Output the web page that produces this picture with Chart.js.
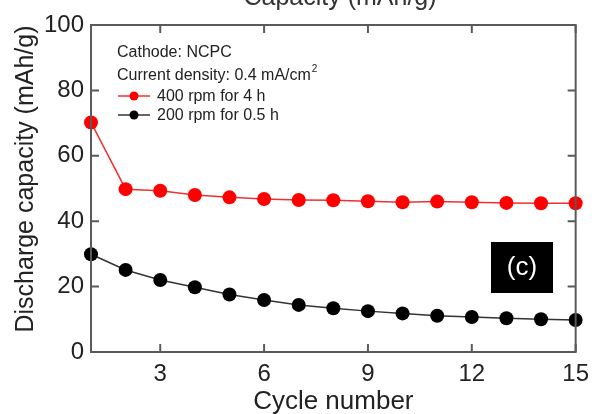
<!DOCTYPE html>
<html>
<head>
<meta charset="utf-8">
<script src="https://cdn.jsdelivr.net/npm/chart.js@4.4.1/dist/chart.umd.min.js"></script>
<style>
  html, body { margin: 0; padding: 0; background: #fff; }
</style>
</head>
<body>
<canvas id="capChart" width="597" height="414"></canvas>
<script>
// cycle number vs discharge capacity (mAh/g)
const cycles = [1, 2, 3, 4, 5, 6, 7, 8, 9, 10, 11, 12, 13, 14, 15];
const rpm400for4h = [70.2, 49.8, 49.3, 48.0, 47.3, 46.8, 46.5, 46.4, 46.1, 45.8, 46.0, 45.8, 45.6, 45.5, 45.5];
const rpm200for05h = [29.9, 25.1, 22.0, 19.8, 17.6, 15.9, 14.4, 13.4, 12.5, 11.8, 11.1, 10.7, 10.3, 10.0, 9.8];
const seriesLabels = ['400 rpm for 4 h', '200 rpm for 0.5 h'];
const xTicks = [3, 6, 9, 12, 15];
const yTicks = [0, 20, 40, 60, 80, 100];

const FONT = '"Liberation Sans", Arial, sans-serif';
const AXIS = '#5a5a5a';

// inward ticks on all four sides, frame, notes and legend
const decor = {
  id: 'decor',
  afterDatasetsDraw(chart) {
    const { ctx, chartArea: a, scales: { x, y } } = chart;
    ctx.save();
    ctx.strokeStyle = AXIS;
    ctx.lineWidth = 2;
    ctx.strokeRect(a.left, a.top, a.right - a.left, a.bottom - a.top);
    ctx.beginPath();
    xTicks.forEach(v => {
      const px = x.getPixelForValue(v);
      ctx.moveTo(px, a.bottom); ctx.lineTo(px, a.bottom - 8);
      ctx.moveTo(px, a.top); ctx.lineTo(px, a.top + 8);
    });
    yTicks.forEach(v => {
      const py = y.getPixelForValue(v);
      ctx.moveTo(a.left, py); ctx.lineTo(a.left + 8, py);
      ctx.moveTo(a.right, py); ctx.lineTo(a.right - 8, py);
    });
    ctx.stroke();

    // cut-off heading from the panel above
    ctx.fillStyle = '#333';
    ctx.font = '25px ' + FONT;
    ctx.textAlign = 'center';
    ctx.textBaseline = 'alphabetic';
    ctx.fillText('Capacity (mAh/g)', 340, 5);

    // y axis title
    ctx.save();
    ctx.translate(26, 179);
    ctx.rotate(-Math.PI / 2);
    ctx.fillStyle = '#222';
    ctx.textBaseline = 'middle';
    ctx.fillText('Discharge capacity (mAh/g)', 0, 0);
    ctx.restore();

    // notes
    ctx.textAlign = 'left';
    ctx.textBaseline = 'alphabetic';
    ctx.fillStyle = '#222';
    ctx.font = '16px ' + FONT;
    ctx.fillText('Cathode: NCPC', 117, 57);
    ctx.fillText('Current density: 0.4 mA/cm', 117, 80);
    const w = ctx.measureText('Current density: 0.4 mA/cm').width;
    ctx.font = '10px ' + FONT;
    ctx.fillText('2', 117 + w + 1, 72);

    // legend
    ctx.font = '16px ' + FONT;
    ctx.textBaseline = 'middle';
    chart.data.datasets.forEach((ds, i) => {
      const ly = 96 + i * 19;
      ctx.strokeStyle = ds.borderColor;
      ctx.lineWidth = 1.5;
      ctx.beginPath();
      ctx.moveTo(118, ly); ctx.lineTo(150, ly);
      ctx.stroke();
      ctx.fillStyle = ds.backgroundColor;
      ctx.beginPath();
      ctx.arc(134, ly, 4.5, 0, Math.PI * 2);
      ctx.fill();
      ctx.fillStyle = '#222';
      ctx.fillText(ds.label, 157, ly + 1);
    });

    // panel tag
    ctx.fillStyle = '#000';
    ctx.fillRect(491, 242, 62, 51);
    ctx.fillStyle = '#fff';
    ctx.font = '26px ' + FONT;
    ctx.textAlign = 'center';
    ctx.fillText('(c)', 522, 268);
    ctx.restore();
  }
};

new Chart(document.getElementById('capChart'), {
  type: 'line',
  data: {
    labels: cycles,
    datasets: [{
      label: seriesLabels[0],
      data: cycles.map((c, i) => ({ x: c, y: rpm400for4h[i] })),
      borderColor: '#f03030',
      backgroundColor: '#ff0000',
      borderWidth: 1.5,
      pointRadius: 7,
      pointBorderWidth: 0,
      clip: false
    }, {
      label: seriesLabels[1],
      data: cycles.map((c, i) => ({ x: c, y: rpm200for05h[i] })),
      borderColor: '#333333',
      backgroundColor: '#000000',
      borderWidth: 1.5,
      pointRadius: 7,
      pointBorderWidth: 0,
      clip: false
    }]
  },
  options: {
    responsive: false,
    animation: false,
    layout: { padding: { top: 25, right: 18, left: 0, bottom: 0 } },
    plugins: { legend: { display: false }, tooltip: { enabled: false } },
    scales: {
      x: {
        type: 'linear',
        min: 1,
        max: 15,
        afterBuildTicks: s => { s.ticks = xTicks.map(v => ({ value: v })); },
        afterFit: s => { s.height = 62; },
        grid: { display: false, drawTicks: false },
        border: { display: false },
        ticks: { color: '#222', padding: 8, font: { family: FONT, size: 24 } },
        title: {
          display: true,
          text: 'Cycle number',
          color: '#222',
          padding: { top: 0, bottom: -1 },
          font: { family: FONT, size: 26, lineHeight: 1 }
        }
      },
      y: {
        min: 0,
        max: 100,
        afterBuildTicks: s => { s.ticks = yTicks.map(v => ({ value: v })); },
        afterFit: s => { s.width = 91; },
        grid: { display: false, drawTicks: false },
        border: { display: false },
        ticks: { color: '#222', padding: 7, font: { family: FONT, size: 24 } }
      }
    }
  },
  plugins: [decor]
});
</script>
</body>
</html>
